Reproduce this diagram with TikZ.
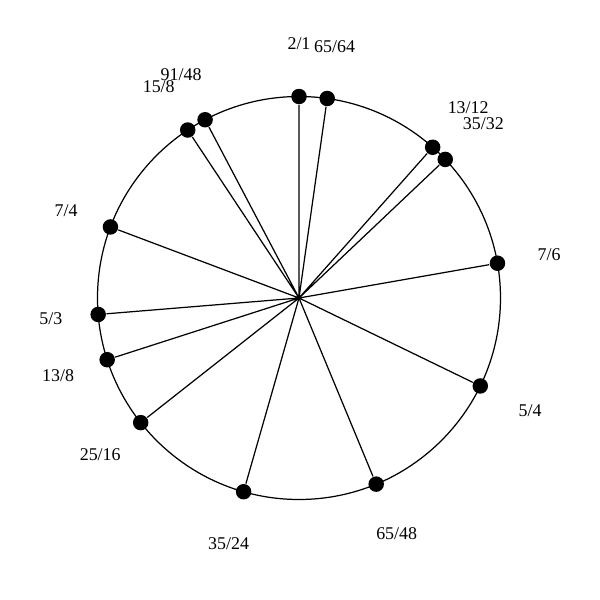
\documentclass[tikz,border=0pt]{standalone}
\usepackage{fontspec}
\setmainfont{Liberation Serif}

\tikzset{
  pt/.style={circle, fill=black, inner sep=0pt, minimum size=0.31cm},
  lab/.style={font=\fontsize{10.2}{12}\selectfont, inner sep=0pt},
}

\begin{document}
\begin{tikzpicture}[line width=0.7pt]
    \useasboundingbox (-5.98,-6.04) rectangle (6.02,5.96);
    \coordinate (c) at (0,0);
    \draw (c) circle (4.03);

    \node[pt] (p2-1) at (90:4.03) {};
    \node[pt] (p65-64) at (81.95:4.03) {};
    \node[pt] (p13-12) at (48.43:4.03) {};
    \node[pt] (p35-32) at (43.46:4.03) {};
    \node[pt] (p7-6) at (9.94:4.03) {};
    \node[pt] (p5-4) at (-25.89:4.03) {};
    \node[pt] (p65-48) at (-67.47:4.03) {};
    \node[pt] (p35-24) at (-105.96:4.03) {};
    \node[pt] (p25-16) at (-141.79:4.03) {};
    \node[pt] (p13-8) at (-162.16:4.03) {};
    \node[pt] (p5-3) at (-175.31:4.03) {};
    \node[pt] (p7-4) at (159.35:4.03) {};
    \node[pt] (p15-8) at (123.52:4.03) {};
    \node[pt] (p91-48) at (117.78:4.03) {};

    \node[lab] (l2-1) at (90:5.08) {2/1};
    \node[lab] (l65-64) at (81.95:5.08) {65/64};
    \node[lab] (l13-12) at (48.43:5.1) {13/12};
    \node[lab] (l35-32) at (43.46:5.08) {35/32};
    \node[lab] (l7-6) at (9.94:5.08) {7/6};
    \node[lab] (l5-4) at (-25.89:5.14) {5/4};
    \node[lab] (l65-48) at (-67.47:5.1) {65/48};
    \node[lab] (l35-24) at (-105.96:5.12) {35/24};
    \node[lab] (l25-16) at (-141.79:5.06) {25/16};
    \node[lab] (l13-8) at (-162.16:5.06) {13/8};
    \node[lab] (l5-3) at (-175.31:4.98) {5/3};
    \node[lab] (l7-4) at (159.35:4.98) {7/4};
    \node[lab] (l15-8) at (123.52:5.08) {15/8};
    \node[lab] (l91-48) at (117.78:5.06) {91/48};

    \draw (c) -- (p2-1) (c) -- (p65-64) (c) -- (p13-12) (c) -- (p35-32)
          (c) -- (p7-6) (c) -- (p5-4) (c) -- (p65-48) (c) -- (p35-24)
          (c) -- (p25-16) (c) -- (p13-8) (c) -- (p5-3) (c) -- (p7-4)
          (c) -- (p15-8) (c) -- (p91-48);
\end{tikzpicture}
\end{document}
